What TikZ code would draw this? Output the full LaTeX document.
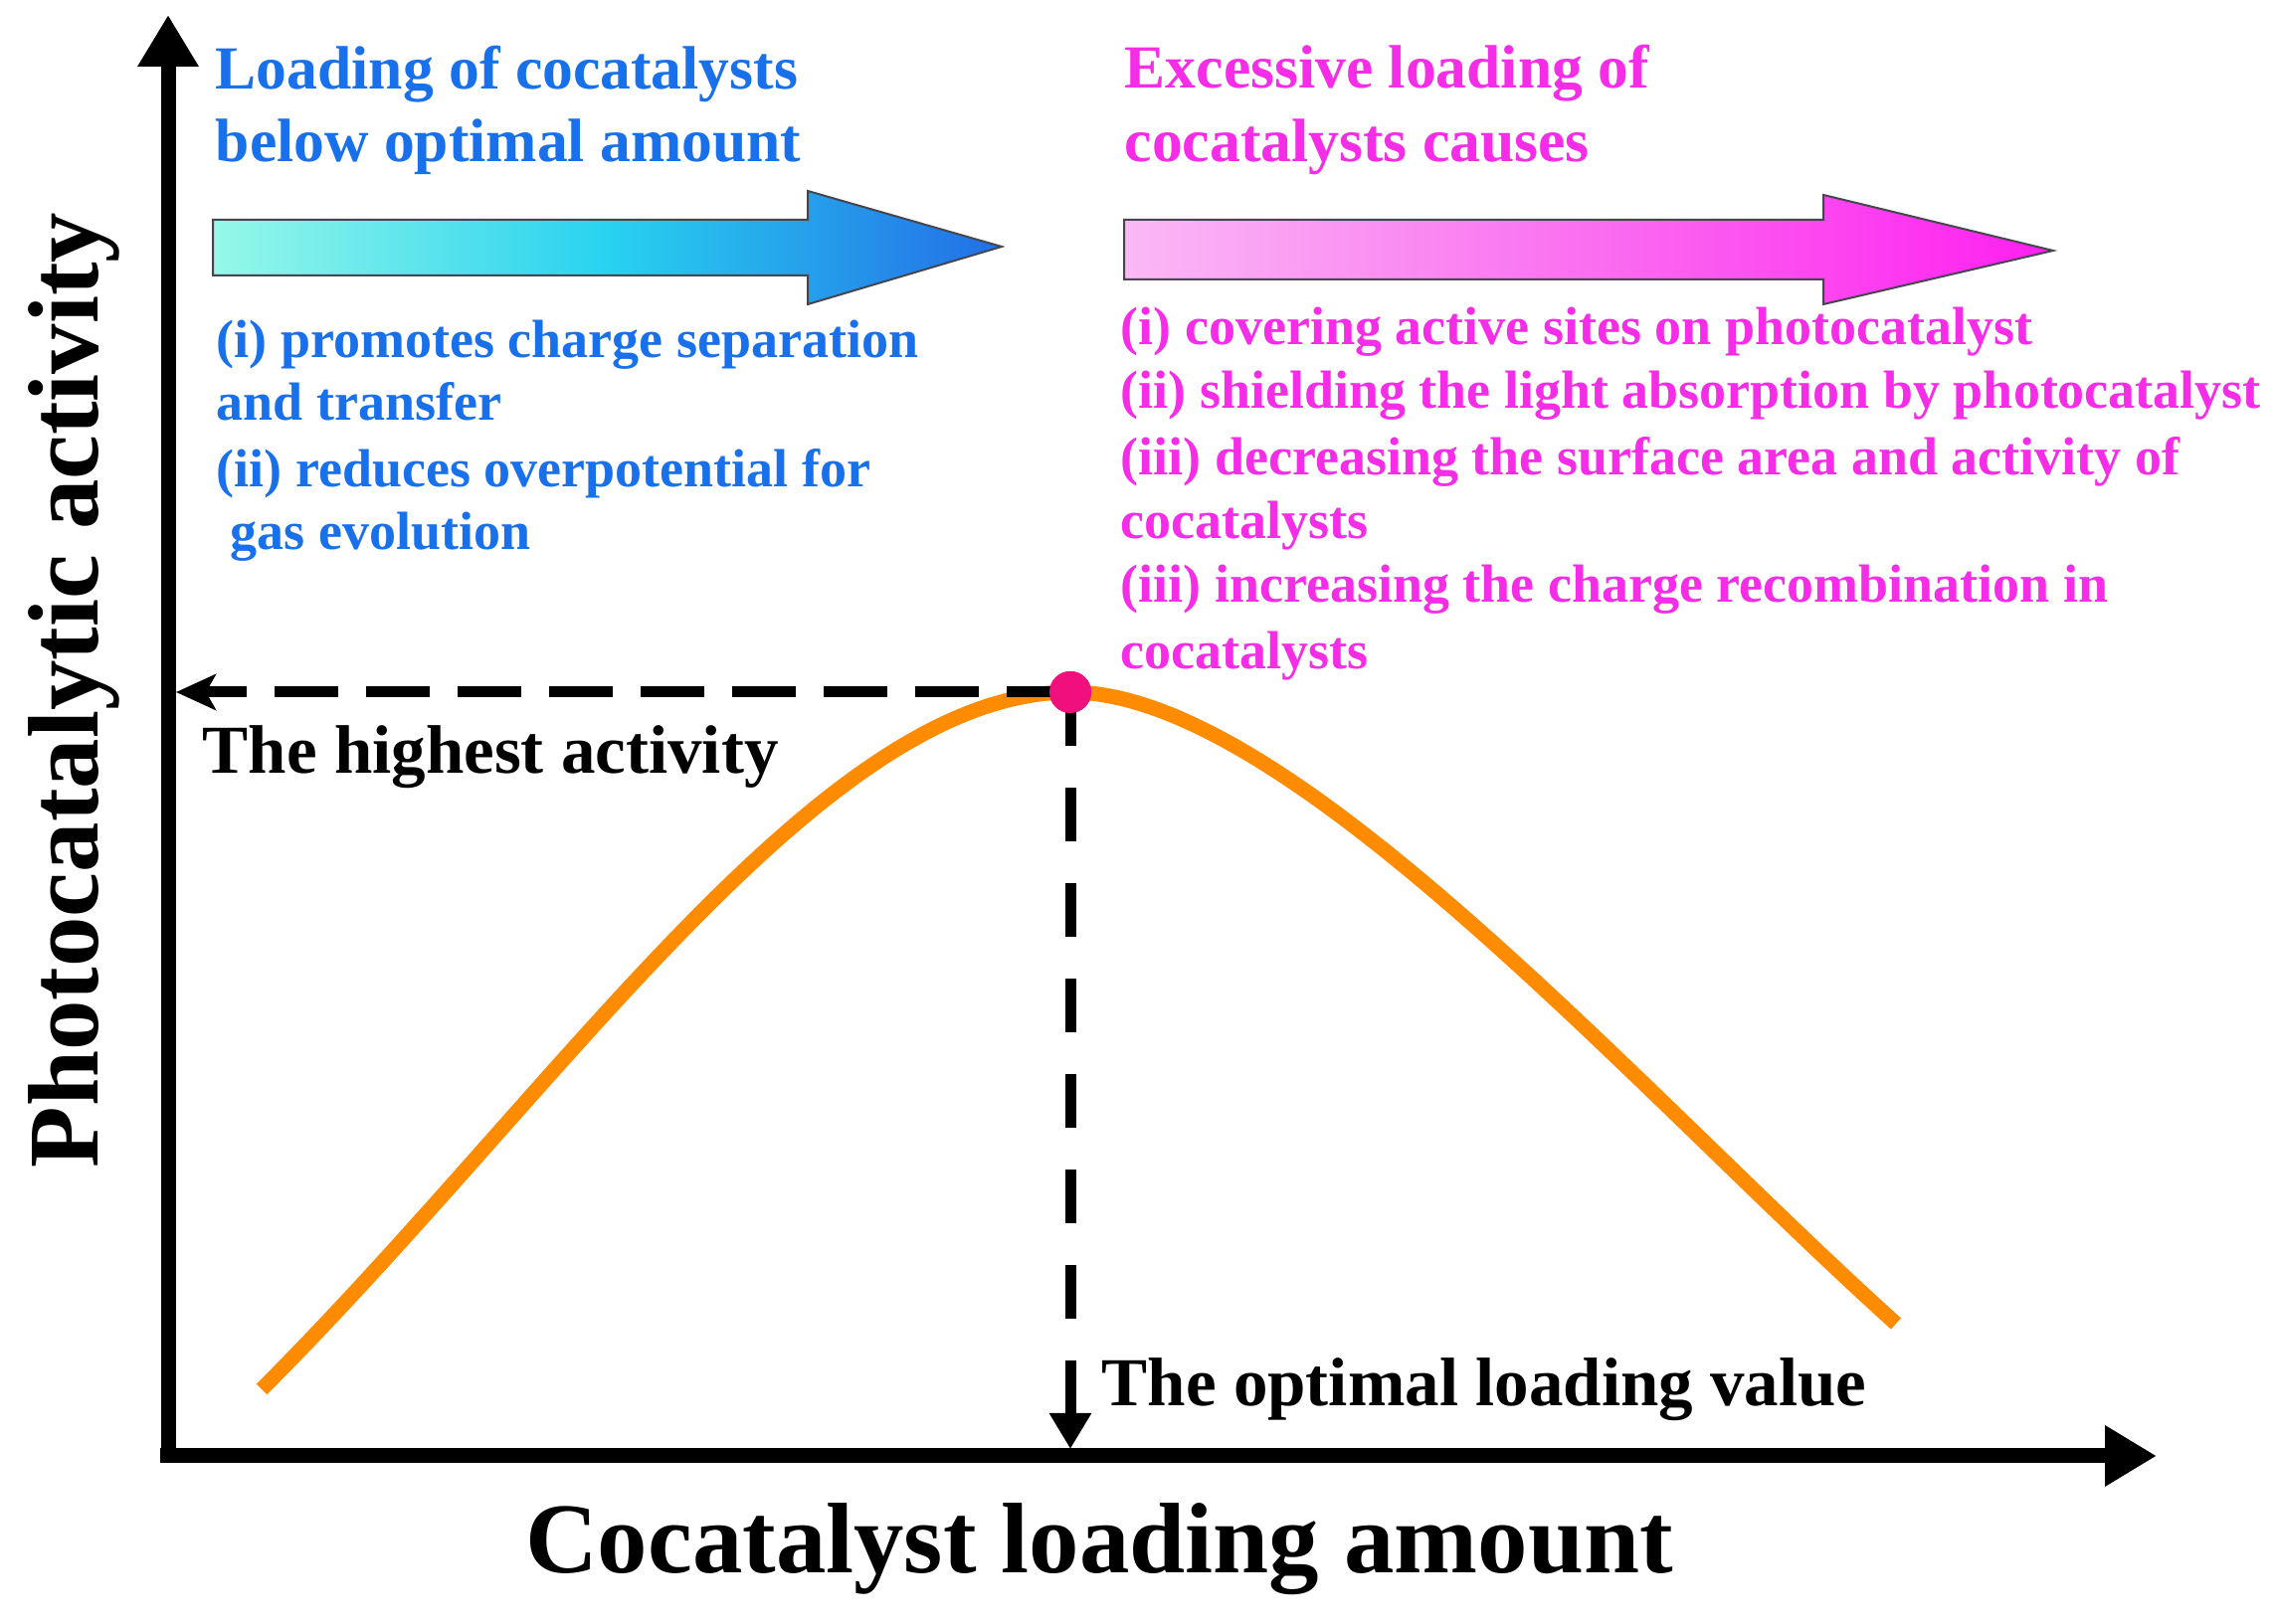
\documentclass[tikz,border=0pt]{standalone}
\usepackage{fontspec}
\setmainfont{Liberation Serif}
\usetikzlibrary{arrows.meta}
\definecolor{blueT}{RGB}{25,112,235}
\definecolor{magT}{RGB}{245,45,230}
\definecolor{orangeC}{RGB}{255,140,0}
\definecolor{dotC}{RGB}{240,15,125}
\definecolor{arrowEdge}{RGB}{70,70,80}
\begin{document}
\begin{tikzpicture}[x=0.25pt,y=-0.25pt,
  axisline/.style={line width=3.75pt,-{Triangle[length=13pt,width=14.5pt]}},
  guideh/.style={line width=2.75pt,dash pattern=on 16pt off 7pt,-{Stealth[length=10pt,width=9pt,inset=2.5pt]}},
  guidev/.style={line width=2.75pt,dash pattern=on 13.5pt off 10.5pt,-{Triangle[length=9pt,width=10pt]}},
  headB/.style={anchor=base west,inner sep=0,text=blueT,font=\fontsize{15.4}{18}\selectfont\bfseries},
  headM/.style={headB,text=magT},
  itemB/.style={anchor=base west,inner sep=0,text=blueT,font=\fontsize{13.5}{16}\selectfont\bfseries},
  itemM/.style={itemB,text=magT},
  lab/.style={anchor=base west,inner sep=0,font=\fontsize{17.25}{20}\selectfont\bfseries},
  axtitle/.style={anchor=base,inner sep=0,font=\fontsize{25.2}{30}\selectfont\bfseries},
  fatarrow/.style={draw=arrowEdge,line width=0.5pt},
  curve/.style={draw=orangeC,line width=3.75pt},
  peakdot/.style={circle,fill=dotC,inner sep=0,minimum size=10.5pt}
]
\fill[white] (0,0) rectangle (2285,1633);
\path[use as bounding box] (0,0) rectangle (2285,1633);

% axes
\coordinate (yb) at (169,1471);
\coordinate (ytip) at (169,15);
\coordinate (xb) at (161,1464);
\coordinate (xtip) at (2168,1464);
\draw[axisline] (yb) -- (ytip);
\draw[axisline] (xb) -- (xtip);

% fat arrows
\path[fatarrow,left color={rgb,255:red,150;green,248;blue,232},right color={rgb,255:red,35;green,110;blue,230},middle color={rgb,255:red,40;green,210;blue,240}]
  (214,221) -- (812,221) -- (812,192) -- (1007,248) -- (812,306) -- (812,277) -- (214,277) -- cycle;
\path[fatarrow,left color={rgb,255:red,250;green,185;blue,245},right color={rgb,255:red,255;green,30;blue,240},middle color={rgb,255:red,250;green,110;blue,240}]
  (1130,221) -- (1833,221) -- (1833,196) -- (2064,252) -- (1833,306) -- (1833,281) -- (1130,281) -- cycle;

% texts
\node[headB] (bh1) at (216,90) {Loading of cocatalysts};
\node[headB] (bh2) at (216,163) {below optimal amount};
\node[headM] (mh1) at (1130,89) {Excessive loading of};
\node[headM] (mh2) at (1130,163) {cocatalysts causes};

\node[itemB] (bi1) at (217,360) {(i) promotes charge separation};
\node[itemB] (bi2) at (217,423) {and transfer};
\node[itemB] (bi3) at (217,490) {(ii) reduces overpotential for};
\node[itemB] (bi4) at (231,553) {gas evolution};

\node[itemM] (mi1) at (1126,347) {(i) covering active sites on photocatalyst};
\node[itemM] (mi2) at (1126,411) {(ii) shielding the light absorption by photocatalyst};
\node[itemM] (mi3) at (1126,478) {(iii) decreasing the surface area and activity of};
\node[itemM] (mi4) at (1126,542) {cocatalysts};
\node[itemM] (mi5) at (1126,606) {(iii) increasing the charge recombination in};
\node[itemM] (mi6) at (1126,673) {cocatalysts};

\node[lab] (hi) at (203,778) {The highest activity};
\node[lab] (opt) at (1107,1414) {The optimal loading value};

\node[axtitle] (xt) at (1105,1582) {Cocatalyst loading amount};
\node[axtitle,rotate=90] (yt) at (98,694) {Photocatalytic activity};

% curve
\coordinate (cstart) at (263,1397);
\coordinate (cend) at (1906,1331);
\draw[curve] (cstart) .. controls (563,1097) and (826,696) .. (1076,696)
  .. controls (1296,696) and (1646,1097) .. (cend);

% guides
\node[peakdot] (peak) at (1076,696) {};
\coordinate (yhit) at (177,696);
\coordinate (xhit) at (1076,1457);
\draw[guideh] (peak.center) -- (yhit);
\draw[guidev] (peak.center) -- (xhit);
\node[peakdot] (peaktop) at (peak) {};
\end{tikzpicture}
\end{document}
